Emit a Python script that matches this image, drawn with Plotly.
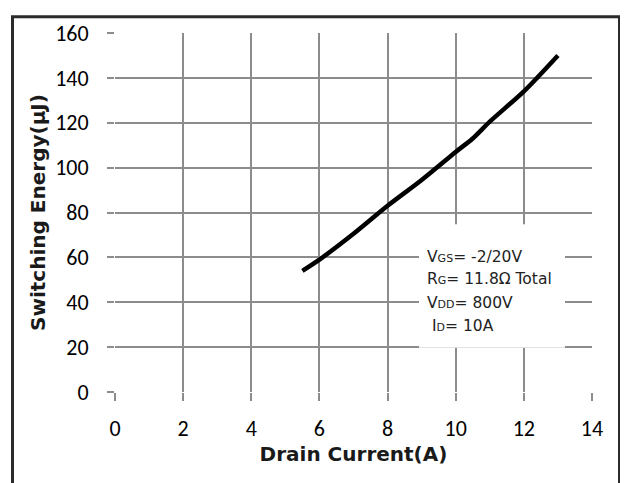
import plotly.graph_objects as go

drain_current = [5.5, 6, 7, 8, 9, 10, 10.5, 11, 12, 13]
switching_energy = [54, 59, 70.5, 83, 94.5, 107, 113, 120.5, 134, 150]

x_ticks = [0, 2, 4, 6, 8, 10, 12, 14]
y_ticks = [0, 20, 40, 60, 80, 100, 120, 140, 160]

OFF = 8  # page body margin
W, H = 628 - OFF, 483 - OFF
L, R, T, B = 115 - OFF, 36, 26 - OFF, 91
pw, ph = W - L - R, H - T - B

def px(x):
    return (x - OFF - L) / pw

def py(y):
    return (H - B - (y - OFF)) / ph

fig = go.Figure()
fig.add_trace(go.Scatter(x=drain_current, y=switching_energy, mode="lines",
                         line=dict(color="black", width=4.5, shape="spline", smoothing=0.8),
                         showlegend=False, hoverinfo="skip"))

grid = "#8c8c8c"
tick_font = dict(family="Carlito, Lato, sans-serif", size=22, color="black")
title_font = dict(family="DejaVu Sans, Verdana, sans-serif", size=20, color="#1a1a1a")

fig.update_xaxes(range=[0, 14], tickvals=x_ticks, ticktext=[str(v) for v in x_ticks],
                 showgrid=True, gridcolor=grid, gridwidth=2, zeroline=False,
                 showline=False, ticks="outside", ticklen=8, tickcolor=grid, tickwidth=2,
                 tickfont=tick_font, ticklabelstandoff=9,
                 title=dict(text="<b>Drain Current(A)</b>", font=title_font, standoff=4))
fig.update_yaxes(range=[0, 160], tickvals=y_ticks, ticktext=[str(v) for v in y_ticks],
                 showgrid=True, gridcolor=grid, gridwidth=2, zeroline=False,
                 showline=False, ticks="outside", ticklen=7, tickcolor=grid, tickwidth=2,
                 tickfont=tick_font, ticklabelstandoff=14,
                 title=dict(text="<b>Switching Energy(μJ)</b>", font=title_font, standoff=4))

# annotation box (white background covering gridlines)
fig.add_shape(type="rect", xref="paper", yref="paper",
              x0=px(419), x1=px(565), y0=py(347), y1=py(221),
              fillcolor="white", line=dict(width=0), layer="above")

ann_font = dict(family="DejaVu Sans, Verdana, sans-serif", size=15.5, color="#222222")
sub = '<span style="font-size:11px">{}</span>'
lines = [
    ("V" + sub.format("GS") + "= -2/20V", 425, 254),
    ("R" + sub.format("G") + "= 11.8Ω Total", 425, 277),
    ("V" + sub.format("DD") + "= 800V", 425, 301),
    ("I" + sub.format("D") + "= 10A", 430, 325),
]
for text, x, y in lines:
    fig.add_annotation(text=text, xref="paper", yref="paper", x=px(x), y=py(y),
                       xanchor="left", yanchor="middle", showarrow=False, font=ann_font)

# outer border
fig.add_shape(type="rect", xref="paper", yref="paper",
              x0=px(12.5), x1=px(619.5), y0=py(495), y1=py(9.5),
              line=dict(color="#2b2b2b", width=3), fillcolor="rgba(0,0,0,0)", layer="above")

fig.update_layout(width=W, height=H, margin=dict(l=L, r=R, t=T, b=B),
                  paper_bgcolor="white", plot_bgcolor="white")

fig.write_html("out.html")
